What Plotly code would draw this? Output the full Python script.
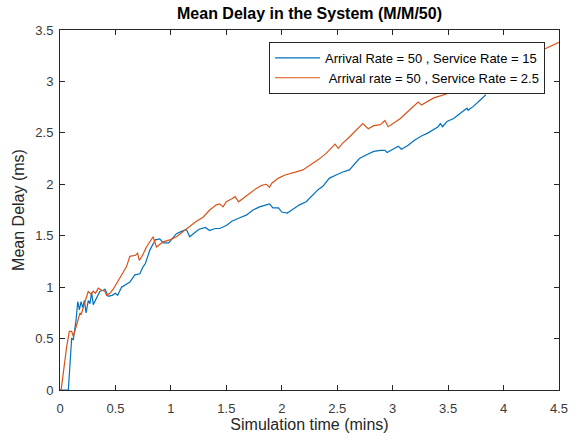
import plotly.graph_objects as go

# Orange series: Arrival rate = 50, Service Rate = 2.5
ox = [0.0, 0.01, 0.06, 0.084, 0.105, 0.12, 0.15, 0.18, 0.19, 0.225, 0.255, 0.28, 0.30, 0.32, 0.345,
      0.375, 0.405, 0.42, 0.45, 0.48, 0.54, 0.60, 0.63, 0.68, 0.70, 0.715, 0.74, 0.78, 0.84, 0.87,
      0.93, 0.99, 1.05, 1.11, 1.17, 1.23, 1.29, 1.35, 1.41, 1.44, 1.47, 1.50, 1.55, 1.58, 1.61,
      1.65, 1.71, 1.77, 1.82, 1.86, 1.89, 1.91, 1.97, 2.03, 2.07, 2.13, 2.19, 2.25, 2.33, 2.40,
      2.48, 2.51, 2.55, 2.61, 2.68, 2.73, 2.78, 2.83, 2.89, 2.93, 2.96, 3.00, 3.07, 3.13, 3.19,
      3.23, 3.26, 3.31, 3.37, 3.43, 3.49, 3.53, 3.58, 3.64, 3.69, 3.70, 3.74, 3.80, 3.86, 3.92,
      4.00, 4.10, 4.20, 4.30, 4.36, 4.40, 4.45, 4.50]
oy = [0, 0, 0.42, 0.57, 0.57, 0.52, 0.63, 0.75, 0.73, 0.85, 0.96, 0.93, 0.96, 0.94, 0.99,
      0.97, 0.96, 0.92, 0.94, 0.98, 1.09, 1.20, 1.30, 1.31, 1.33, 1.26, 1.30, 1.39, 1.49, 1.39,
      1.44, 1.46, 1.49, 1.54, 1.59, 1.64, 1.68, 1.75, 1.80, 1.81, 1.78, 1.83, 1.86, 1.88, 1.83,
      1.86, 1.91, 1.96, 1.99, 2.00, 1.97, 2.01, 2.06, 2.09, 2.10, 2.12, 2.14, 2.18, 2.24, 2.30,
      2.39, 2.35, 2.40, 2.46, 2.53, 2.59, 2.54, 2.57, 2.58, 2.62, 2.56, 2.59, 2.64, 2.70, 2.76,
      2.80, 2.77, 2.80, 2.84, 2.86, 2.88, 2.92, 2.95, 2.97, 2.97, 2.90, 2.94, 2.97, 3.01, 3.04,
      3.08, 3.14, 3.20, 3.26, 3.31, 3.33, 3.36, 3.38]

# Blue series: Arrival Rate = 50, Service Rate = 15
bx = [0.0, 0.075, 0.105, 0.12, 0.145, 0.16, 0.175, 0.19, 0.205, 0.22, 0.235, 0.255, 0.27, 0.285,
      0.30, 0.33, 0.36, 0.39, 0.405, 0.435, 0.47, 0.50, 0.52, 0.555, 0.60, 0.63, 0.675, 0.72,
      0.75, 0.77, 0.81, 0.86, 0.90, 0.93, 0.98, 1.02, 1.05, 1.09, 1.14, 1.17, 1.20, 1.25, 1.31,
      1.35, 1.40, 1.44, 1.50, 1.55, 1.61, 1.68, 1.74, 1.80, 1.86, 1.89, 1.92, 1.97, 2.00, 2.05,
      2.09, 2.16, 2.22, 2.28, 2.33, 2.37, 2.43, 2.49, 2.55, 2.61, 2.65, 2.70, 2.77, 2.83, 2.89,
      2.93, 2.95, 3.01, 3.05, 3.08, 3.14, 3.20, 3.26, 3.32, 3.37, 3.41, 3.43, 3.45, 3.49, 3.55,
      3.61, 3.67, 3.68, 3.73, 3.79, 3.84]
by = [0, 0, 0.50, 0.49, 0.68, 0.86, 0.78, 0.86, 0.80, 0.87, 0.75, 0.87, 0.84, 0.95,
      0.83, 0.90, 0.96, 0.97, 0.98, 0.91, 0.92, 0.94, 0.92, 1.00, 1.03, 1.05, 1.12, 1.13,
      1.20, 1.23, 1.36, 1.46, 1.47, 1.43, 1.43, 1.48, 1.52, 1.54, 1.56, 1.49, 1.52, 1.56, 1.58,
      1.55, 1.57, 1.57, 1.60, 1.64, 1.67, 1.70, 1.75, 1.78, 1.80, 1.81, 1.77, 1.77, 1.73, 1.72,
      1.75, 1.80, 1.83, 1.90, 1.95, 1.98, 2.06, 2.09, 2.12, 2.14, 2.19, 2.25, 2.29, 2.32, 2.33,
      2.33, 2.31, 2.35, 2.37, 2.34, 2.38, 2.43, 2.47, 2.50, 2.53, 2.56, 2.59, 2.56, 2.61, 2.64,
      2.69, 2.74, 2.72, 2.76, 2.82, 2.87]

xticks = [0, 0.5, 1, 1.5, 2, 2.5, 3, 3.5, 4, 4.5]
xticklabels = ["0", "0.5", "1", "1.5", "2", "2.5", "3", "3.5", "4", "4.5"]
yticks = [0, 0.5, 1, 1.5, 2, 2.5, 3, 3.5]
yticklabels = ["0", "0.5", "1", "1.5", "2", "2.5", "3", "3.5"]

names = ["Arrival Rate = 50 , Service Rate = 15", "\u00a0Arrival rate = 50 , Service Rate = 2.5"]

font = "Liberation Sans, Arial, sans-serif"
axc = "#262626"

fig = go.Figure()
fig.add_trace(go.Scatter(x=bx, y=by, mode="lines", name=names[0],
                         line=dict(color="#0072BD", width=1.2)))
fig.add_trace(go.Scatter(x=ox, y=oy, mode="lines", name=names[1],
                         line=dict(color="#D95319", width=1.2)))

axis_common = dict(showgrid=False, zeroline=False, showline=True, linecolor=axc, linewidth=1,
                   mirror="ticks", ticks="inside", ticklen=5, tickcolor=axc, automargin=False,
                   tickfont=dict(family=font, size=13, color="#3a3a3a"))

fig.update_layout(
    width=572, height=439,
    margin=dict(l=60, r=13, t=30, b=49, autoexpand=False),
    paper_bgcolor="white", plot_bgcolor="white",
    font=dict(family=font, color=axc),
    title=dict(text="<b>Mean Delay in the System (M/M/50)</b>", x=309.5 / 572,
               xanchor="center", y=1 - 13 / 439, yanchor="middle",
               font=dict(family=font, size=16, color="black")),
    xaxis=dict(range=[0, 4.5], tickvals=xticks, ticktext=xticklabels, ticklabelstandoff=6,
               title=dict(text="Simulation time (mins)", font=dict(family=font, size=16, color=axc),
                          standoff=4),
               **axis_common),
    yaxis=dict(range=[0, 3.5], tickvals=yticks, ticktext=yticklabels, ticklabelstandoff=3,
               title=dict(text="Mean Delay (ms)", font=dict(family=font, size=16, color=axc),
                          standoff=6),
               **axis_common),
    legend=dict(x=0.972, xanchor="right", y=0.967, yanchor="top",
                bgcolor="white", bordercolor="#262626", borderwidth=1,
                font=dict(family=font, size=13, color="black"),
                itemwidth=45, tracegroupgap=0),
    showlegend=True,
)

fig.write_html("out.html")
